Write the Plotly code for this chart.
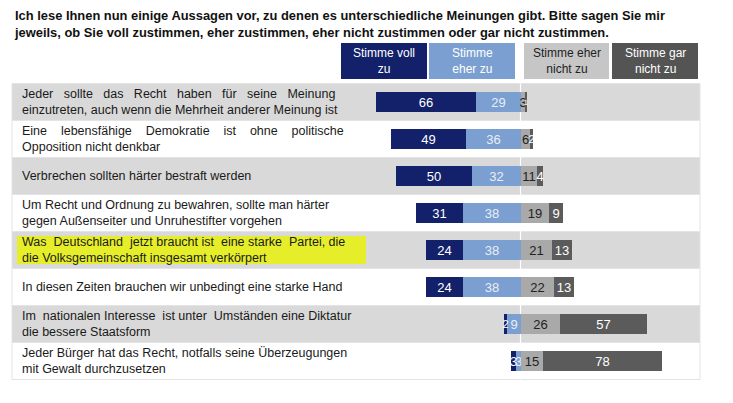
import plotly.graph_objects as go

N = "\u00a0"
statements = [
    "Jeder" + N*2 + " sollte" + N*2 + " das" + N*2 + " Recht" + N*2 + " haben" + N*2 + " für" + N*2 + " seine" + N*2 + " Meinung"
    + "<br>einzutreten, auch wenn die Mehrheit anderer Meinung ist",
    "Eine" + N*3 + " lebensfähige" + N*3 + " Demokratie" + N*3 + " ist" + N*3 + " ohne" + N*3 + " politische"
    + "<br>Opposition nicht denkbar",
    "Verbrechen sollten härter bestraft werden",
    "Um Recht und Ordnung zu bewahren, sollte man härter<br>gegen Außenseiter und Unruhestifter vorgehen",
    "Was" + N + " Deutschland" + N + " jetzt braucht ist" + N + " eine starke" + N + " Partei, die"
    + "<br>die Volksgemeinschaft insgesamt verkörpert",
    "In diesen Zeiten brauchen wir unbedingt eine starke Hand",
    "Im" + N + " nationalen Interesse" + N + " ist unter" + N + " Umständen eine Diktatur<br>die bessere Staatsform",
    "Jeder Bürger hat das Recht, notfalls seine Überzeugungen<br>mit Gewalt durchzusetzen",
]
voll_zu = [66, 49, 50, 31, 24, 24, 2, 3]
eher_zu = [29, 36, 32, 38, 38, 38, 9, 3]
eher_nicht = [3, 6, 11, 19, 21, 22, 26, 15]
gar_nicht = [1, 2, 4, 9, 13, 13, 57, 78]
series_names = ["Stimme voll<br>zu", "Stimme<br>eher zu", "Stimme eher<br>nicht zu", "Stimme gar<br>nicht zu"]
title_text = ("<b>Ich lese Ihnen nun einige Aussagen vor, zu denen es unterschiedliche Meinungen gibt. Bitte sagen Sie mir<br>"
              "jeweils, ob Sie voll zustimmen, eher zustimmen, eher nicht zustimmen oder gar nicht zustimmen.</b>")

NAVY = "#13206a"
LBLUE = "#7b9fd0"
LGRAY = "#a9a9a9"
DGRAY = "#5b5b5b"
FONT = "Liberation Sans, Arial, sans-serif"

W, H = 733, 403
rows = list(range(len(statements)))

fig = go.Figure()

def label_size(v):
    if v >= 3:
        return 13
    if v == 2:
        return 11
    return 8

def add_bar(vals, sign, color, tcolor):
    fig.add_trace(go.Bar(
        y=rows, x=[sign * v for v in vals], orientation="h",
        marker=dict(color=color, line=dict(width=0)),
        text=[str(v) for v in vals], textposition="inside",
        insidetextanchor="middle", textangle=0, constraintext="none",
        textfont=dict(family=FONT, size=[label_size(v) for v in vals], color=tcolor),
        width=0.52, showlegend=False, hoverinfo="skip",
    ))

add_bar(eher_zu, -1, LBLUE, "#e8eef8")
add_bar(voll_zu, -1, NAVY, "white")
add_bar(eher_nicht, 1, LGRAY, "#222222")
add_bar(gar_nicht, 1, DGRAY, "white")

shapes = []
for i in rows:
    shapes.append(dict(type="rect", xref="paper", yref="y",
                       x0=12 / W, x1=700 / W, y0=i - 0.5, y1=i + 0.5,
                       fillcolor="#d9d9d9" if i % 2 == 0 else "white",
                       line=dict(color="#e4e4e4", width=1), layer="below"))
shapes.append(dict(type="rect", xref="paper", yref="y",
                   x0=17 / W, x1=366 / W, y0=3.62, y1=4.38,
                   fillcolor="#e6ee2a", line=dict(width=0), layer="below"))
shapes.append(dict(type="line", xref="x", yref="y", x0=0, x1=0, y0=-0.5, y1=7.5,
                   line=dict(color="white", width=1.2), layer="below"))

hdr = [(341, 427, NAVY, "white"), (429, 515, LBLUE, "white"),
       (524, 609, "#c6c6c6", "#222222"), (612, 698, "#545454", "white")]
annotations = []
for (x0, x1, col, tc), name in zip(hdr, series_names):
    shapes.append(dict(type="rect", xref="paper", yref="paper",
                       x0=x0 / W, x1=x1 / W, y0=1 - 79 / H, y1=1 - 43 / H,
                       fillcolor=col, line=dict(width=0)))
    annotations.append(dict(xref="paper", yref="paper", x=(x0 + x1) / 2 / W, y=1 - 61 / H,
                            text=name, showarrow=False, xanchor="center", yanchor="middle",
                            font=dict(family=FONT, size=12, color=tc)))

for i, s in enumerate(statements):
    annotations.append(dict(xref="paper", yref="y", x=20 / W, y=i, text=s, showarrow=False,
                            xanchor="left", yanchor="middle", align="left",
                            font=dict(family=FONT, size=12.5, color="#1a1a1a")))

annotations.append(dict(xref="paper", yref="paper", x=12 / W, y=1 - 6 / H, text=title_text,
                        showarrow=False, xanchor="left", yanchor="top", align="left",
                        font=dict(family=FONT, size=12.9, color="#111111")))

px0 = 520.5
scale = 1.52
fig.update_layout(
    width=W, height=H, margin=dict(l=0, r=0, t=0, b=0),
    paper_bgcolor="white", plot_bgcolor="rgba(0,0,0,0)",
    barmode="relative", bargap=0,
    xaxis=dict(range=[-px0 / scale, (W - px0) / scale], visible=False, fixedrange=True),
    yaxis=dict(range=[(H - 102) / 37.0, (0 - 102) / 37.0], visible=False, fixedrange=True),
    shapes=shapes, annotations=annotations,
)
fig.write_html("out.html", config={"displayModeBar": False},
               post_script="document.body.style.margin='0';document.body.style.overflow='hidden';")
